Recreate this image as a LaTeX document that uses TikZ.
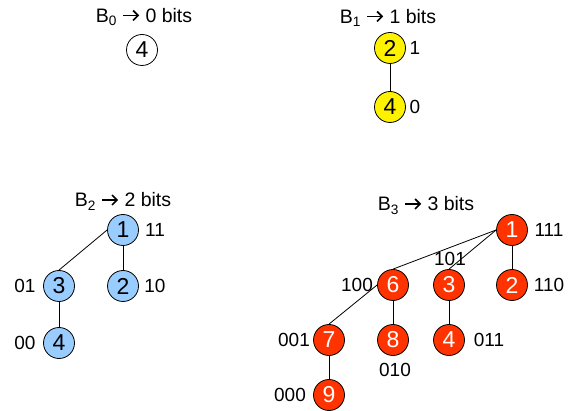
\documentclass[tikz,border=0pt]{standalone}
\usepackage{fontspec}
\setmainfont{Liberation Sans}
\usetikzlibrary{arrows.meta}
% thick arrow with an open chevron head, used in the tree titles
\newcommand{\bitsarrow}{\tikz[baseline=-7pt,x=1pt,y=1pt]
  \draw[line width=1.7pt,-{Straight Barb[length=5pt,width=10pt,line width=1.7pt]}] (0,0) -- (16,0);}
\begin{document}
\begin{tikzpicture}[x=1pt,y=-1pt,
  vtx/.style={circle,draw=black,line width=0.8pt,minimum size=31pt,inner sep=0pt,
    font=\fontsize{23}{26}\selectfont},
  plain/.style={vtx,fill=white},
  yel/.style={vtx,fill=yellow},
  blu/.style={vtx,fill={rgb,255:red,153;green,204;blue,255}},
  rd/.style={vtx,fill={rgb,255:red,255;green,51;blue,0},text=white},
  code/.style={inner sep=0pt,font=\fontsize{19}{22}\selectfont},
  title/.style={inner sep=0pt,anchor=base,font=\fontsize{19.5}{22}\selectfont},
  edge/.style={draw=black,line width=0.8pt}]
\useasboundingbox (0,0) rectangle (570,411);

% B0
\node[title] (t0) at (144,22.5) {B\textsubscript{0} \bitsarrow{} 0 bits};
\node[plain] (a4) at (142,50) {4};

% B1
\node[title] (t1) at (388,23.5) {B\textsubscript{1} \bitsarrow{} 1 bits};
\node[yel] (b2) at (390,48) {2};
\node[yel] (b4) at (390,107) {4};
\node[code] (lb2) at (415,48) {1};
\node[code] (lb4) at (415,107) {0};
\draw[edge] (b2) -- (b4);

% B2
\node[title] (t2) at (123,207) {B\textsubscript{2} \bitsarrow{} 2 bits};
\node[blu] (c1) at (123,230) {1};
\node[blu] (c3) at (59,286) {3};
\node[blu] (c2) at (123,286) {2};
\node[blu] (c4) at (59,343) {4};
\draw[edge] (c1.west) -- (c3.north);
\draw[edge] (c1) -- (c2);
\draw[edge] (c3) -- (c4);
\node[code] (lc1) at (155,230) {11};
\node[code] (lc2) at (155,286) {10};
\node[code] (lc3) at (25,286) {01};
\node[code] (lc4) at (25,343) {00};

% B3
\node[title] (t3) at (426,211) {B\textsubscript{3} \bitsarrow{} 3 bits};
\node[rd] (d1) at (512,230) {1};
\node[rd] (d6) at (393,285) {6};
\node[rd] (d3) at (449,285) {3};
\node[rd] (d2) at (512,285) {2};
\node[rd] (d7) at (329,340) {7};
\node[rd] (d8) at (393,340) {8};
\node[rd] (d4) at (449,340) {4};
\node[rd] (d9) at (329,395) {9};
\draw[edge] (d1.west) -- (d6.north);
\draw[edge] (d1.west) -- (d3.north);
\draw[edge] (d1) -- (d2);
\draw[edge] (d6.west) -- (d7.north);
\draw[edge] (d6) -- (d8);
\draw[edge] (d3) -- (d4);
\draw[edge] (d7) -- (d9);
\node[code] (ld1) at (549,230) {111};
\node[code] (ld2) at (549,285) {110};
\node[code] (ld3) at (450,259) {101};
\node[code] (ld6) at (357,285) {100};
\node[code] (ld7) at (294,340) {001};
\node[code] (ld8) at (395,370) {010};
\node[code] (ld4) at (489,340) {011};
\node[code] (ld9) at (290,395) {000};
\end{tikzpicture}
\end{document}
